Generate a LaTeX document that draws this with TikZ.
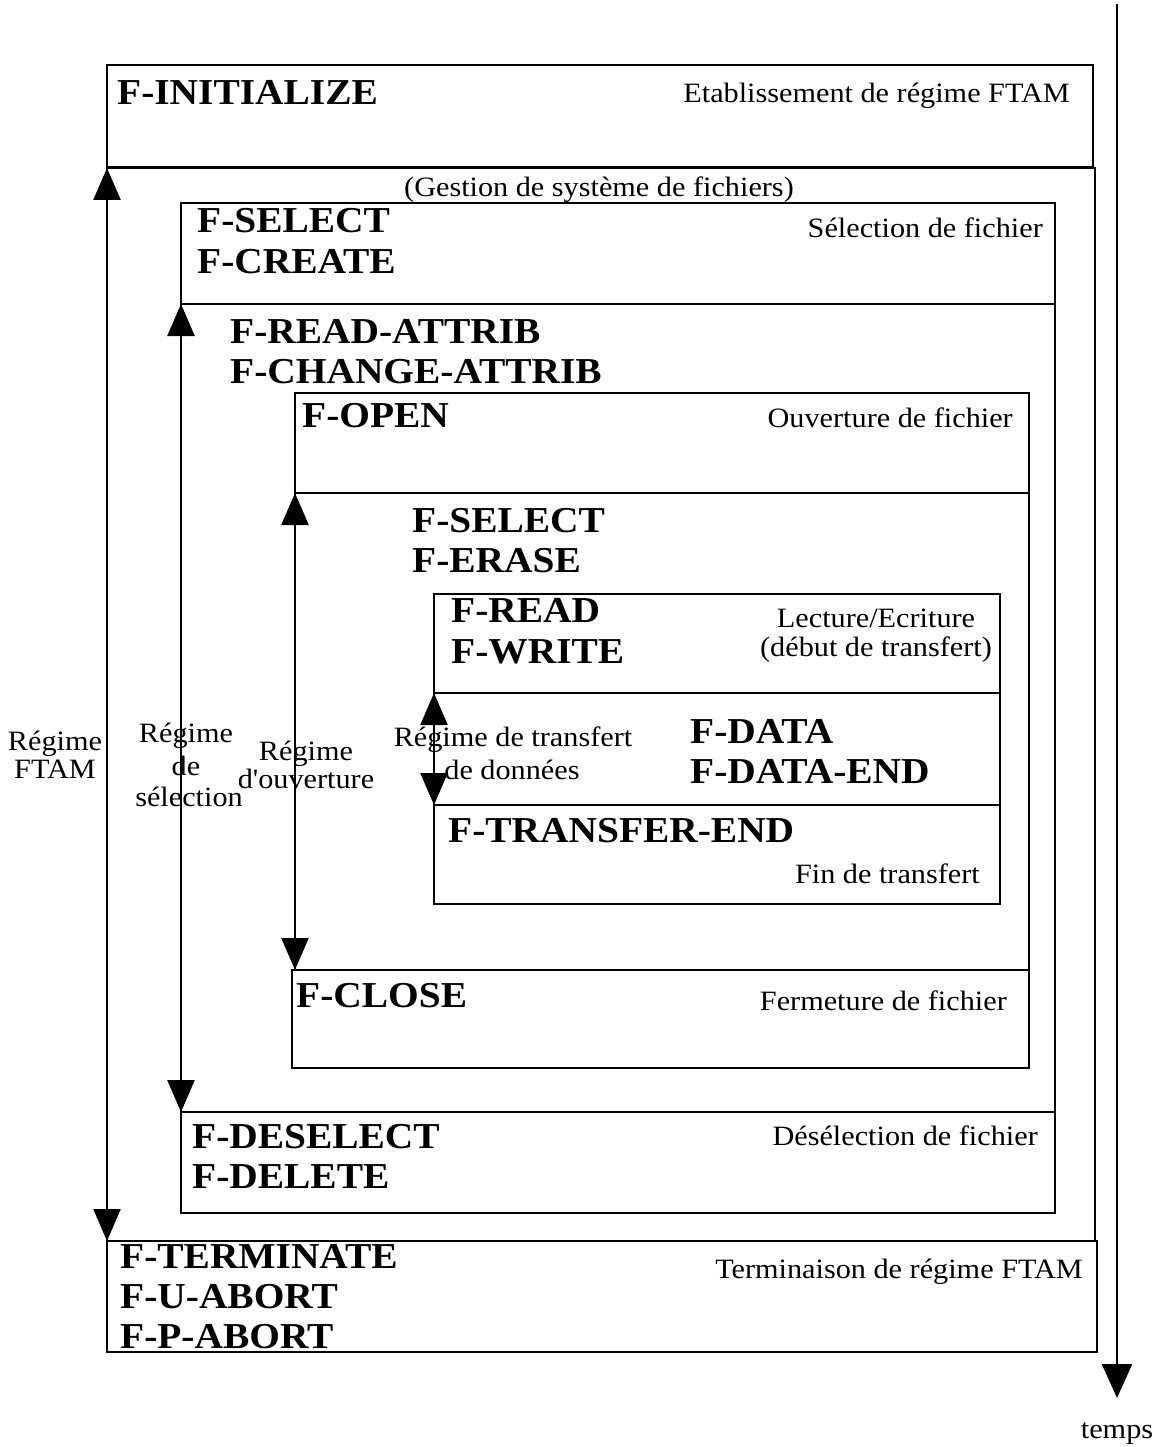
\documentclass[tikz,border=0pt]{standalone}
\usepackage{fontspec}
\setmainfont{Liberation Serif}[FakeStretch=1.08]
% same face without TeX quote mapping, for a straight apostrophe
\newfontfamily\plainserif{Liberation Serif}[FakeStretch=1.08]
\usetikzlibrary{arrows.meta,fit}

\tikzset{
  box/.style={draw, line width=2.8pt, inner sep=0pt, outer sep=0pt},
  cmd/.style={font=\fontsize{36.5}{40}\selectfont\bfseries, inner sep=0pt, anchor=base west},
  note/.style={font=\fontsize{28}{30}\selectfont, inner sep=0pt},
  notel/.style={note, anchor=base east},
  notec/.style={note, anchor=base},
  span/.style={line width=2.5pt, {Triangle[width=27pt,length=32pt]}-{Triangle[width=27pt,length=32pt]}},
  timeline/.style={line width=2.5pt, -{Triangle[width=30pt,length=34pt]}}
}

\begin{document}
\begin{tikzpicture}[x=1pt,y=-1pt]
\useasboundingbox (0,0) rectangle (1159,1447);
\fill[white] (0,0) rectangle (1159,1447);

% corner points of the nested phases
\coordinate (a1) at (107,65);   \coordinate (a2) at (1093,167);
\coordinate (b1) at (107,168);  \coordinate (b2) at (1095,1241);
\coordinate (c1) at (181,203);  \coordinate (c2) at (1055,304);
\coordinate (d1) at (181,304);  \coordinate (d2) at (1055,1112);
\coordinate (e1) at (295,393);  \coordinate (e2) at (1029,493);
\coordinate (f1) at (295,493);  \coordinate (f2) at (1029,970);
\coordinate (g1) at (434,594);  \coordinate (g2) at (1000,693);
\coordinate (h1) at (434,693);  \coordinate (h2) at (1000,805);
\coordinate (i1) at (434,805);  \coordinate (i2) at (1000,904);
\coordinate (j1) at (292,970);  \coordinate (j2) at (1029,1068);
\coordinate (k1) at (181,1112); \coordinate (k2) at (1055,1213);
\coordinate (l1) at (107,1241); \coordinate (l2) at (1097,1352);

\node[box, fit=(a1)(a2)] (init) {};
\node[box, fit=(b1)(b2)] (gestion) {};
\node[box, fit=(c1)(c2)] (select) {};
\node[box, fit=(d1)(d2)] (selreg) {};
\node[box, fit=(e1)(e2)] (open) {};
\node[box, fit=(f1)(f2)] (openreg) {};
\node[box, fit=(g1)(g2)] (rw) {};
\node[box, fit=(h1)(h2)] (xfer) {};
\node[box, fit=(i1)(i2)] (tend) {};
\node[box, fit=(j1)(j2)] (close) {};
\node[box, fit=(k1)(k2)] (desel) {};
\node[box, fit=(l1)(l2)] (term) {};

% regime spans
\draw[span] (gestion.north west) -- (term.north west);
\draw[span] (select.south west) -- (desel.north west);
\draw[span] (open.south west) -- (open.south west |- close.north);
\draw[span] (rw.south west) -- (tend.north west);

% time axis
\coordinate (t0) at (1117,4);
\coordinate (t1) at (1117,1398);
\draw[timeline] (t0) -- (t1);
\node[notec] (temps) at (1117,1438) {temps};

% service primitives
\node[cmd] (p1) at (117,105) {F-INITIALIZE};
\node[cmd] (p2) at (197,233) {F-SELECT};
\node[cmd] (p3) at (197,273) {F-CREATE};
\node[cmd] (p4) at (230,343) {F-READ-ATTRIB};
\node[cmd] (p5) at (230,383) {F-CHANGE-ATTRIB};
\node[cmd] (p6) at (302,427) {F-OPEN};
\node[cmd] (p7) at (412,532) {F-SELECT};
\node[cmd] (p8) at (412,572) {F-ERASE};
\node[cmd] (p9) at (451,622) {F-READ};
\node[cmd] (p10) at (451,663) {F-WRITE};
\node[cmd] (p11) at (690,743) {F-DATA};
\node[cmd] (p12) at (690,783) {F-DATA-END};
\node[cmd] (p13) at (448,842) {F-TRANSFER-END};
\node[cmd] (p14) at (296,1007) {F-CLOSE};
\node[cmd] (p15) at (192,1148) {F-DESELECT};
\node[cmd] (p16) at (192,1188) {F-DELETE};
\node[cmd] (p17) at (120,1268) {F-TERMINATE};
\node[cmd] (p18) at (120,1308) {F-U-ABORT};
\node[cmd] (p19) at (120,1348) {F-P-ABORT};

% phase descriptions
\node[notel] (n1) at (1070,103) {Etablissement de régime FTAM};
\node[notec] (n2) at (599,197) {(Gestion de système de fichiers)};
\node[notel] (n3) at (1043,238) {Sélection de fichier};
\node[notel] (n4) at (1013,427) {Ouverture de fichier};
\node[notec] (n5) at (876,627) {Lecture/Ecriture};
\node[notec] (n6) at (876,656) {(début de transfert)};
\node[notel] (n7) at (980,883) {Fin de transfert};
\node[notel] (n8) at (1007,1010) {Fermeture de fichier};
\node[notel] (n9) at (1038,1145) {Désélection de fichier};
\node[notel] (n10) at (1083,1278) {Terminaison de régime FTAM};

% regime labels
\node[notec] (r1) at (55,750) {Régime};
\node[notec] (r2) at (55,778) {FTAM};
\node[notec] (r3) at (186,742) {Régime};
\node[notec] (r4) at (186,775) {de};
\node[notec] (r5) at (189,806) {sélection};
\node[notec] (r6) at (306,760) {Régime};
\node[notec] (r7) at (306,788) {\plainserif d'ouverture};
\node[notec] (r8) at (513,746) {Régime de transfert};
\node[notec] (r9) at (512,779) {de données};
\end{tikzpicture}
\end{document}
